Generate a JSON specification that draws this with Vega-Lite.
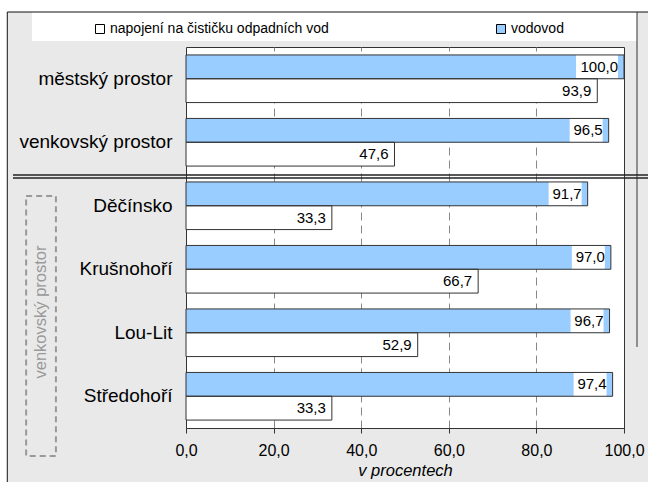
{
  "$schema": "https://vega.github.io/schema/vega-lite/v6.json",
  "width": 438,
  "height": 381,
  "autosize": {"type": "none"},
  "padding": {"left": 186, "top": 47, "right": 24, "bottom": 54},
  "background": "#e9e9e9",
  "config": {
    "font": "Liberation Sans",
    "view": {"fill": "white", "stroke": "#333333", "strokeWidth": 1},
    "locale": {"number": {"decimal": ",", "thousands": "\u00a0", "grouping": [3], "currency": ["", " Kč"]}}
  },
  "layer": [
    {
      "data": {"values": [{}]},
      "layer": [
        {
          "mark": {"type": "rect", "color": "white"},
          "encoding": {
            "x": {"datum": -60, "type": "quantitative", "scale": {"domain": [0, 100], "nice": false}},
            "x2": {"datum": -40.8},
            "y": {"datum": -60, "type": "quantitative", "scale": {"domain": [0, 381], "reverse": true, "nice": false, "zero": false}, "axis": null},
            "y2": {"datum": 460}
          }
        },
        {
          "mark": {"type": "rect", "color": "white"},
          "encoding": {
            "x": {"datum": -60, "type": "quantitative"},
            "x2": {"datum": 120},
            "y": {"datum": -60, "type": "quantitative", "axis": null},
            "y2": {"datum": -35}
          }
        },
        {
          "mark": {"type": "rect", "color": "white"},
          "encoding": {
            "x": {"datum": -35.16, "type": "quantitative"},
            "x2": {"datum": 102.97},
            "y": {"datum": -35, "type": "quantitative", "axis": null},
            "y2": {"datum": -6}
          }
        },
        {
          "mark": {"type": "rule", "color": "#111111", "strokeWidth": 1},
          "encoding": {
            "x": {"datum": -40.8, "type": "quantitative"},
            "y": {"datum": -35, "type": "quantitative", "axis": null},
            "y2": {"datum": 460}
          }
        },
        {
          "mark": {"type": "rule", "color": "#111111", "strokeWidth": 1},
          "encoding": {
            "y": {"datum": -35, "type": "quantitative", "axis": null},
            "x": {"datum": -40.8, "type": "quantitative"},
            "x2": {"datum": 120}
          }
        },
        {
          "mark": {"type": "rule", "color": "#333333", "strokeWidth": 1},
          "encoding": {
            "x": {"datum": 102.97, "type": "quantitative"},
            "y": {"datum": -35, "type": "quantitative", "axis": null},
            "y2": {"datum": 300}
          }
        },
        {
          "mark": {"type": "rule", "color": "#222222", "strokeWidth": 1.3},
          "encoding": {
            "y": {"datum": 128, "type": "quantitative", "axis": null},
            "x": {"datum": -39.5, "type": "quantitative"},
            "x2": {"datum": 110}
          }
        },
        {
          "mark": {"type": "rule", "color": "#222222", "strokeWidth": 1.3},
          "encoding": {
            "y": {"datum": 131, "type": "quantitative", "axis": null},
            "x": {"datum": -39.5, "type": "quantitative"},
            "x2": {"datum": 110}
          }
        },
        {
          "mark": {"type": "rect", "fill": null, "fillOpacity": 0, "stroke": "#999999", "strokeWidth": 2, "strokeDash": [6, 4]},
          "encoding": {
            "x": {"datum": -36.5, "type": "quantitative"},
            "x2": {"datum": -29.7},
            "y": {"datum": 149, "type": "quantitative", "axis": null},
            "y2": {"datum": 409}
          }
        },
        {
          "mark": {"type": "text", "text": "venkovský prostor", "angle": 270, "align": "center", "baseline": "middle", "fontSize": 16.5, "color": "#999999"},
          "encoding": {
            "x": {"datum": -33.2, "type": "quantitative"},
            "y": {"datum": 265, "type": "quantitative", "axis": null}
          }
        }
      ]
    },
    {
      "data": {
        "values": [
          {"kat": "městský prostor", "serie": "vodovod", "hodnota": 100.0},
          {"kat": "městský prostor", "serie": "napojení na čističku odpadních vod", "hodnota": 93.9},
          {"kat": "venkovský prostor", "serie": "vodovod", "hodnota": 96.5},
          {"kat": "venkovský prostor", "serie": "napojení na čističku odpadních vod", "hodnota": 47.6},
          {"kat": "Děčínsko", "serie": "vodovod", "hodnota": 91.7},
          {"kat": "Děčínsko", "serie": "napojení na čističku odpadních vod", "hodnota": 33.3},
          {"kat": "Krušnohoří", "serie": "vodovod", "hodnota": 97.0},
          {"kat": "Krušnohoří", "serie": "napojení na čističku odpadních vod", "hodnota": 66.7},
          {"kat": "Lou-Lit", "serie": "vodovod", "hodnota": 96.7},
          {"kat": "Lou-Lit", "serie": "napojení na čističku odpadních vod", "hodnota": 52.9},
          {"kat": "Středohoří", "serie": "vodovod", "hodnota": 97.4},
          {"kat": "Středohoří", "serie": "napojení na čističku odpadních vod", "hodnota": 33.3}
        ]
      },
      "encoding": {
        "y": {
          "field": "kat",
          "type": "nominal",
          "sort": ["městský prostor", "venkovský prostor", "Děčínsko", "Krušnohoří", "Lou-Lit", "Středohoří"],
          "scale": {"paddingInner": 0.25, "paddingOuter": 0.125},
          "title": null,
          "axis": {"labelFontSize": 19, "labelColor": "black", "labelPadding": 14, "labelLimit": 300, "ticks": false, "domain": false, "grid": false}
        },
        "yOffset": {
          "field": "serie",
          "type": "nominal",
          "sort": ["vodovod", "napojení na čističku odpadních vod"],
          "scale": {"domain": ["vodovod", "napojení na čističku odpadních vod"], "paddingInner": 0, "paddingOuter": 0}
        },
        "x": {
          "field": "hodnota",
          "type": "quantitative",
          "scale": {"domain": [0, 100], "nice": false},
          "title": "v procentech",
          "axis": {
            "values": [0, 20, 40, 60, 80, 100],
            "format": ".1f",
            "labelFlush": false,
            "grid": true,
            "gridDash": [8, 5],
            "gridColor": {"condition": {"test": "datum.value == 0 || datum.value == 100", "value": "transparent"}, "value": "#888888"},
            "domainColor": "#333333",
            "tickColor": "#333333",
            "tickSize": 5,
            "labelFontSize": 16,
            "labelColor": "black",
            "labelPadding": 9,
            "titleFontSize": 16.5,
            "titleFontStyle": "italic",
            "titleFontWeight": "normal",
            "titleColor": "black",
            "titlePadding": 4
          }
        }
      },
      "layer": [
        {
          "mark": {"type": "bar", "strokeWidth": 0},
          "encoding": {
            "color": {
              "field": "serie",
              "type": "nominal",
              "scale": {"domain": ["napojení na čističku odpadních vod", "vodovod"], "range": ["#ffffff", "#99ccff"]},
              "legend": {
                "title": null,
                "orient": "none",
                "legendX": -93,
                "legendY": -25,
                "direction": "horizontal",
                "columnPadding": 165,
                "symbolType": "square",
                "symbolSize": 81,
                "symbolStrokeColor": "black",
                "symbolStrokeWidth": 1,
                "symbolOpacity": 1,
                "labelFontSize": 14,
                "labelLimit": 400,
                "labelColor": "black",
                "labelOffset": 3,
                "padding": 0
              }
            }
          }
        },
        {
          "transform": [{"filter": "datum.serie == 'vodovod' && datum.hodnota >= 99.95"}],
          "mark": {"type": "bar", "color": "white", "xOffset": -6, "x2Offset": -48},
          "encoding": {"x2": {"field": "hodnota"}}
        },
        {
          "transform": [{"filter": "datum.serie == 'vodovod' && datum.hodnota < 99.95"}],
          "mark": {"type": "bar", "color": "white", "xOffset": -6, "x2Offset": -39},
          "encoding": {"x2": {"field": "hodnota"}}
        },
        {
          "mark": {"type": "bar", "fill": "transparent", "stroke": "#333333", "strokeWidth": 1}
        },
        {
          "mark": {"type": "text", "align": "right", "baseline": "middle", "dx": -6, "fontSize": 15, "color": "black"},
          "encoding": {"text": {"field": "hodnota", "type": "quantitative", "format": ".1f"}}
        }
      ]
    }
  ],
  "resolve": {"scale": {"y": "independent"}, "axis": {"y": "independent"}}
}
